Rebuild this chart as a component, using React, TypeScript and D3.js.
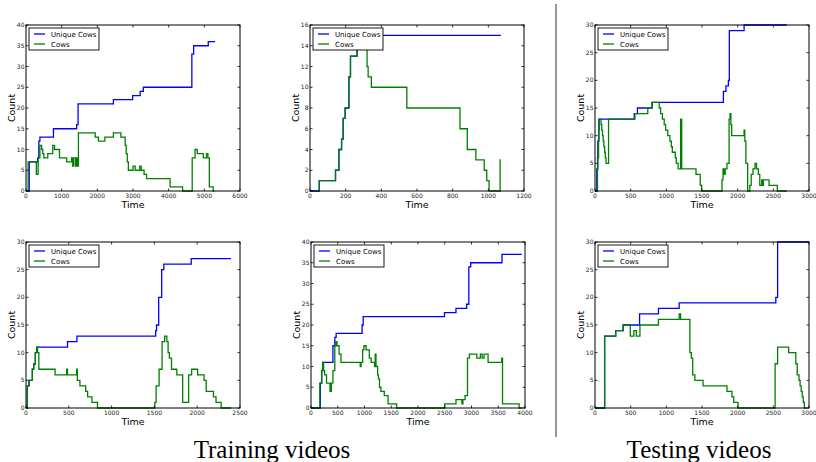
import React from 'react';
import * as d3 from 'd3';

type Pt = [number, number];

// [time, count] change points
const p1Unique: Pt[] = [[0, 0], [90, 7], [330, 8], [360, 12], [390, 13], [770, 15], [1420, 16], [1460, 21], [2450, 22], [2990, 23], [3200, 24], [3290, 25], [4650, 33], [4700, 35], [5110, 36], [5300, 36]];
const p1Cows: Pt[] = [[0, 0], [60, 7], [290, 4], [340, 8], [390, 11], [440, 10], [470, 9], [500, 8], [610, 9], [750, 11], [800, 10], [940, 8], [1140, 7], [1280, 8], [1310, 6], [1340, 8], [1390, 6], [1420, 8], [1440, 6], [1470, 14], [1940, 13], [2030, 12], [2210, 13], [2450, 14], [2660, 13], [2780, 11], [2810, 9], [2840, 7], [2870, 5], [3000, 6], [3060, 5], [3190, 6], [3230, 5], [3310, 4], [3380, 3], [4040, 1], [4390, 0], [4660, 8], [4740, 10], [4800, 9], [4970, 8], [5060, 9], [5100, 8], [5140, 1], [5250, 0], [5280, 0]];

const p2Unique: Pt[] = [[0, 0], [52, 1], [143, 2], [162, 4], [177, 5], [186, 7], [197, 8], [218, 11], [227, 13], [264, 14], [290, 15], [1070, 15]];
const p2Cows: Pt[] = [[50, 0], [52, 1], [143, 2], [162, 4], [177, 5], [186, 7], [197, 8], [218, 11], [227, 13], [264, 14], [290, 15], [312, 14], [320, 12], [326, 11], [344, 10], [543, 8], [841, 6], [882, 4], [930, 3], [977, 2], [991, 1], [1004, 0], [1066, 3], [1070, 3]];

const p3Unique: Pt[] = [[0, 0], [15, 0], [25, 4], [40, 9], [55, 13], [550, 14], [595, 15], [800, 16], [1800, 18], [1836, 19], [1870, 20], [1883, 29], [2090, 30], [2690, 30]];
const p3Cows: Pt[] = [[0, 0], [25, 0], [35, 6], [50, 11], [60, 13], [85, 12], [95, 11], [105, 10], [115, 9], [125, 8], [135, 7], [145, 6], [155, 5], [190, 13], [560, 14], [740, 15], [800, 16], [900, 15], [920, 14], [945, 13], [970, 12], [990, 11], [1020, 10], [1050, 9], [1070, 8], [1084, 7], [1125, 6], [1140, 5], [1165, 4], [1200, 13], [1215, 4], [1416, 3], [1475, 1], [1495, 0], [1780, 2], [1795, 4], [1810, 3], [1825, 4], [1850, 5], [1880, 13], [1893, 14], [1905, 12], [1916, 10], [2090, 11], [2100, 9], [2115, 5], [2140, 0], [2170, 1], [2190, 3], [2215, 4], [2243, 5], [2265, 4], [2290, 3], [2310, 1], [2337, 2], [2350, 1], [2360, 2], [2440, 1], [2556, 0], [2690, 0]];

const p4Unique: Pt[] = [[0, 0], [16, 4], [35, 5], [74, 7], [90, 8], [109, 10], [125, 11], [485, 12], [595, 13], [1515, 14], [1525, 15], [1550, 20], [1585, 25], [1610, 26], [1930, 27], [2395, 27]];
const p4Cows: Pt[] = [[0, 0], [16, 4], [35, 5], [74, 7], [90, 8], [109, 10], [125, 11], [135, 10], [150, 7], [340, 6], [475, 7], [485, 6], [592, 7], [600, 5], [630, 4], [697, 3], [720, 2], [770, 1], [835, 0], [1505, 1], [1520, 4], [1555, 7], [1590, 12], [1620, 13], [1645, 12], [1660, 10], [1675, 9], [1700, 7], [1762, 6], [1830, 1], [1900, 6], [1935, 7], [2005, 6], [2080, 5], [2105, 3], [2190, 2], [2220, 1], [2280, 0], [2395, 0]];

const p5Unique: Pt[] = [[0, 0], [174, 6], [200, 9], [218, 11], [410, 15], [445, 17], [470, 18], [955, 20], [975, 22], [2495, 23], [2710, 24], [2910, 25], [2950, 34], [2985, 35], [3570, 37], [3940, 37]];
const p5Cows: Pt[] = [[0, 0], [165, 6], [200, 9], [218, 11], [235, 9], [255, 8], [290, 6], [355, 4], [380, 6], [410, 9], [445, 15], [465, 16], [485, 15], [525, 13], [560, 11], [920, 10], [935, 11], [965, 14], [990, 15], [1030, 14], [1090, 12], [1125, 11], [1188, 10], [1200, 13], [1215, 10], [1245, 8], [1260, 7], [1280, 5], [1306, 4], [1370, 3], [1440, 1], [1600, 0], [2500, 1], [2710, 2], [2820, 1], [2840, 2], [2880, 3], [2925, 12], [2960, 13], [3100, 12], [3165, 13], [3200, 12], [3235, 13], [3310, 11], [3565, 12], [3580, 1], [3890, 0], [3940, 0]];

const p6Unique: Pt[] = [[0, 0], [135, 13], [290, 14], [395, 15], [625, 17], [890, 18], [1180, 19], [2535, 20], [2560, 30], [3000, 30]];
const p6Cows: Pt[] = [[0, 0], [135, 13], [290, 14], [395, 15], [495, 13], [545, 14], [580, 13], [630, 15], [890, 16], [1180, 17], [1200, 16], [1330, 10], [1350, 9], [1370, 6], [1400, 5], [1515, 4], [1850, 3], [1920, 2], [1945, 1], [2005, 0], [2525, 8], [2560, 11], [2715, 10], [2815, 8], [2835, 6], [2860, 5], [2875, 4], [2890, 3], [2905, 2], [2920, 1], [2935, 0], [2965, 0]];

const seriesNames = ['Unique Cows', 'Cows'];
const seriesColors = ['#0000ff', '#008000'];
const captions = ['Training videos', 'Testing videos'];

interface PanelSpec {
  left: number;
  top: number;
  xMax: number;
  xStep: number;
  yMax: number;
  yStep: number;
  unique: Pt[];
  cows: Pt[];
}

const W = 214;
const H = 166;

const panels: PanelSpec[] = [
  { left: 26, top: 25, xMax: 6000, xStep: 1000, yMax: 40, yStep: 5, unique: p1Unique, cows: p1Cows },
  { left: 310, top: 25, xMax: 1200, xStep: 200, yMax: 16, yStep: 2, unique: p2Unique, cows: p2Cows },
  { left: 595, top: 25, xMax: 3000, xStep: 500, yMax: 30, yStep: 5, unique: p3Unique, cows: p3Cows },
  { left: 26, top: 242, xMax: 2500, xStep: 500, yMax: 30, yStep: 5, unique: p4Unique, cows: p4Cows },
  { left: 311, top: 242, xMax: 4000, xStep: 500, yMax: 40, yStep: 5, unique: p5Unique, cows: p5Cows },
  { left: 595, top: 242, xMax: 3000, xStep: 500, yMax: 30, yStep: 5, unique: p6Unique, cows: p6Cows },
];

const sans = '"DejaVu Sans", sans-serif';

function Panel({ p }: { p: PanelSpec }) {
  const x = d3.scaleLinear().domain([0, p.xMax]).range([0, W]);
  const y = d3.scaleLinear().domain([0, p.yMax]).range([H, 0]);
  const line = d3.line<Pt>().x(d => x(d[0])).y(d => y(d[1])).curve(d3.curveStepAfter);
  const xTicks = d3.range(0, p.xMax + 1, p.xStep);
  const yTicks = d3.range(0, p.yMax + 0.001, p.yStep);
  const tl = 2.5;

  return (
    <g transform={`translate(${p.left},${p.top})`}>
      <rect x={0} y={0} width={W} height={H} fill="#fff" />
      <path d={line(p.unique) ?? ''} fill="none" stroke={seriesColors[0]} strokeWidth={1.3} />
      <path d={line(p.cows) ?? ''} fill="none" stroke={seriesColors[1]} strokeWidth={1.3} />
      <rect x={0} y={0} width={W} height={H} fill="none" stroke="#000" strokeWidth={1} />
      {xTicks.map(t => (
        <g key={'x' + t}>
          <line x1={x(t)} x2={x(t)} y1={H} y2={H - tl} stroke="#000" strokeWidth={0.8} />
          <line x1={x(t)} x2={x(t)} y1={0} y2={tl} stroke="#000" strokeWidth={0.8} />
          <text x={x(t)} y={H + 7} fontSize={6} fontFamily={sans} fill="#222" textAnchor="middle">{t}</text>
        </g>
      ))}
      {yTicks.map(t => (
        <g key={'y' + t}>
          <line x1={0} x2={tl} y1={y(t)} y2={y(t)} stroke="#000" strokeWidth={0.8} />
          <line x1={W} x2={W - tl} y1={y(t)} y2={y(t)} stroke="#000" strokeWidth={0.8} />
          <text x={-1.5} y={y(t) + 2} fontSize={6} fontFamily={sans} fill="#222" textAnchor="end">{t}</text>
        </g>
      ))}
      <text x={W / 2} y={H + 17} fontSize={9.5} fontFamily={sans} textAnchor="middle">Time</text>
      <text transform={`translate(-11,${H / 2}) rotate(-90)`} fontSize={9.5} fontFamily={sans} textAnchor="middle">Count</text>
      <g transform="translate(3,3)">
        <rect x={0} y={0} width={70} height={22} fill="#fff" stroke="#000" strokeWidth={0.9} />
        {seriesNames.map((n, i) => (
          <g key={n} transform={`translate(0,${6 + i * 10})`}>
            <line x1={5} x2={16} y1={0} y2={0} stroke={seriesColors[i]} strokeWidth={1.3} />
            <text x={22} y={2.5} fontSize={7} fontFamily={sans}>{n}</text>
          </g>
        ))}
      </g>
    </g>
  );
}

export default function App() {
  return (
    <svg width={816} height={462} style={{ position: 'absolute', left: 0, top: 0, background: '#fff' }}>
      {panels.map((p, i) => <Panel key={i} p={p} />)}
      <line x1={556} x2={556} y1={4} y2={437} stroke="#777" strokeWidth={1.5} />
      <text x={272} y={458} fontSize={25} fontFamily='"Liberation Serif", serif' textAnchor="middle">{captions[0]}</text>
      <text x={699} y={458} fontSize={25} fontFamily='"Liberation Serif", serif' textAnchor="middle">{captions[1]}</text>
    </svg>
  );
}
